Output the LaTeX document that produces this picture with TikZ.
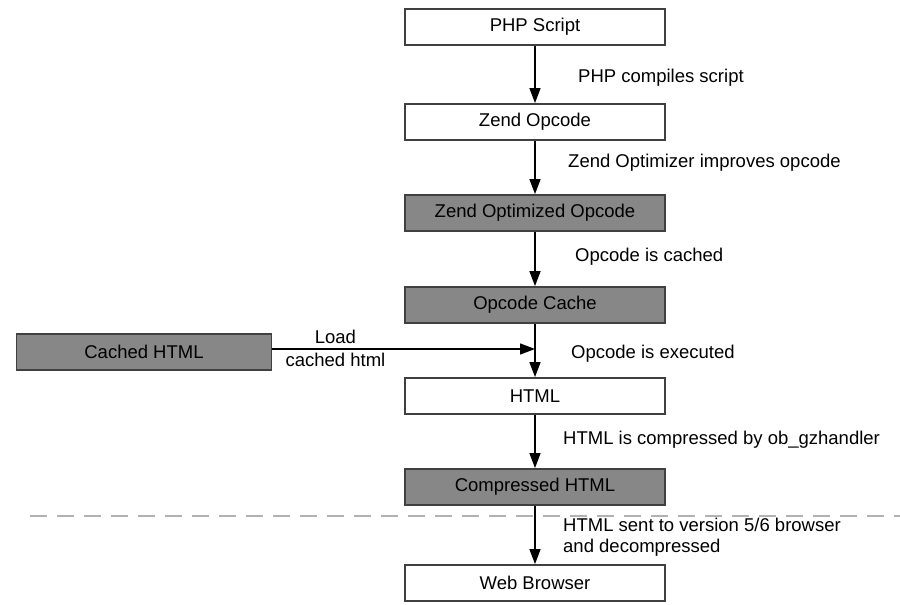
\documentclass[tikz,border=0pt]{standalone}
\usepackage{fontspec}
\setmainfont{Liberation Sans}
\usetikzlibrary{positioning, arrows.meta}

\begin{document}
\begin{tikzpicture}[x=1pt, y=-1pt,
        box/.style={draw=black!75, line width=1.8pt, fill=white, minimum width=260pt,
            minimum height=36pt, inner sep=0pt, font=\fontsize{18.5}{21}\selectfont},
        graybox/.style={box, fill=black!47},
        flow/.style={line width=1.3pt, -{Triangle[length=15pt, width=11pt]}},
        note/.style={anchor=west, inner sep=0pt, font=\fontsize{18.5}{21}\selectfont}
    ]

        % Frame of the picture
        \useasboundingbox (0,0) rectangle (900,605);

        % The boxes of the chain
        \node[box] (php) at (535, 27) {PHP Script};
        \node[box] (zend) at (535, 122) {Zend Opcode};
        \node[graybox] (optimized) at (535, 213) {Zend Optimized Opcode};
        \node[graybox] (cache) at (535, 305) {Opcode Cache};
        \node[box] (html) at (535, 396) {HTML};
        \node[graybox] (compressed) at (535, 487) {Compressed HTML};
        \node[box] (browser) at (535, 583) {Web Browser};

        % Side input
        \node[graybox, minimum width=255pt] (cached) at (144, 352) {Cached HTML};
        \coordinate (join) at (535, 349);

        % Line between server and browser
        \coordinate (cut1) at (30, 516);
        \coordinate (cut2) at (900, 516);
        \draw[black!30, line width=2.5pt, dash pattern=on 17pt off 10pt] (cut1) -- (cut2);

        % Arrows
        \draw[flow] (php) -- (zend);
        \draw[flow] (zend) -- (optimized);
        \draw[flow] (optimized) -- (cache);
        \draw[flow] (cache) -- (html);
        \draw[flow] (compressed) -- (browser);
        \draw[flow] (cached.east |- join) -- (join)
            node[pos=0.24, above=1pt, font=\fontsize{18.5}{21}\selectfont] {Load}
            node[pos=0.24, below=0pt, font=\fontsize{18.5}{21}\selectfont] {cached html};
        \draw[flow] (html) -- (compressed);

        % Labels of the steps
        \node[note] (l1) at (578, 78) {PHP compiles script};
        \node[note] (l2) at (568, 163) {Zend Optimizer improves opcode};
        \node[note] (l3) at (575, 257) {Opcode is cached};
        \node[note] (l4) at (571, 354) {Opcode is executed};
        \node[note] (l5) at (563, 440) {HTML is compressed by ob\_gzhandler};
        \node[note, align=left] (l6) at (563, 537) {HTML sent to version 5/6 browser\\and decompressed};

    \end{tikzpicture}
\end{document}
